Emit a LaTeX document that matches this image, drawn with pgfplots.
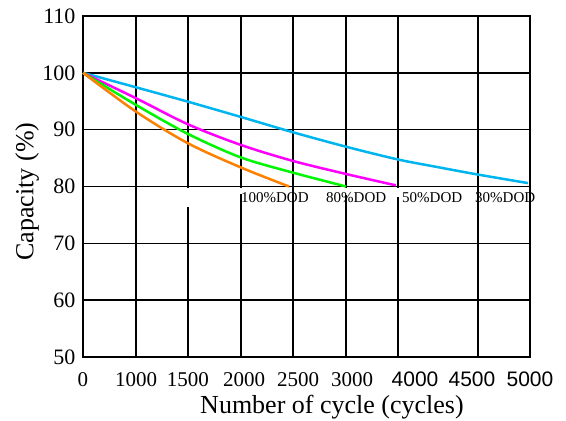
\documentclass[border=0pt]{standalone}
\usepackage{fontspec}
\setmainfont{Liberation Serif}
\newfontfamily\arialf{Liberation Sans}
\usepackage{pgfplots}
\pgfplotsset{compat=1.18}
\definecolor{corange}{RGB}{255,128,0}
\definecolor{cgreen}{RGB}{0,245,0}
\definecolor{cmag}{RGB}{255,0,255}
\definecolor{ccyan}{RGB}{0,180,240}
\begin{document}
\begin{tikzpicture}
\begin{axis}[
  scale only axis,
  width=447bp, height=341bp,
  xmin=0, xmax=5000, ymin=50, ymax=110,
  clip=false,
  axis line style={line width=1.6bp},
  xtick={0,593,1174.5,1801,2405,3009,3714,4351,5000},
  xticklabels={0,1000,1500,2000,2500,3000,{\arialf 4000},{\arialf 4500},{\arialf 5000}},
  minor xtick={593,1174,1767,2349,2942,3524,4418},
  ytick={50,60,70,80,90,100,110},
  ymajorgrids, xminorgrids,
  major grid style={black, line width=1.6bp},
  minor grid style={black, line width=1.6bp},
  major tick length=0pt, minor tick length=0pt,
  /pgf/number format/assume math mode=true,
  yticklabel style={font=\fontsize{22bp}{25bp}\selectfont, xshift=-4bp},
  xticklabel style={font=\fontsize{21bp}{24bp}\selectfont, anchor=base, yshift=-29bp},
  xlabel={Number of cycle (cycles)},
  ylabel={Capacity (\%)},
  label style={font=\fontsize{26bp}{29bp}\selectfont},
  xlabel style={at={(axis description cs:0.557,-0.147)}, anchor=center},
  ylabel style={at={(axis description cs:-0.125,0.485)}, anchor=center},
]
\coordinate (bl) at (rel axis cs:0,0);
\fill[white] (axis cs:1140,79.8) rectangle (axis cs:1208,76.4);
\fill[white] (axis cs:1733,79.8) rectangle (axis cs:1801,78.7);
\fill[white] (axis cs:2908,79.8) rectangle (axis cs:2976,78.5);
\fill[white] (axis cs:3490,79.8) rectangle (axis cs:3558,78.2);
\addplot[ccyan, line width=2.5bp, smooth] coordinates {
 (0,100) (593,97.45) (1174,94.92) (1767,92.23) (2349,89.54) (2942,87.00) (3524,84.75) (3971,83.4) (4418,82.1) (4978,80.6)};
\addplot[cmag, line width=2.5bp, smooth] coordinates {
 (0,100) (593,95.52) (1174,90.94) (1767,87.30) (2349,84.49) (2942,82.20) (3500,80.2)};
\addplot[cgreen, line width=2.5bp, smooth] coordinates {
 (0,100) (593,94.34) (1174,89.24) (1767,85.10) (2349,82.43) (2942,80.0)};
\addplot[corange, line width=2.5bp, smooth] coordinates {
 (0,100) (593,93.16) (1174,87.60) (1767,83.34) (2304,80.0)};
\begin{scope}[every node/.style={anchor=base west, inner sep=0pt, font=\fontsize{15bp}{17bp}\selectfont}]
\node at (axis cs:1767,77.1) {100\%DOD};
\node at (axis cs:2718,77.1) {80\%DOD};
\node at (axis cs:3568,77.1) {50\%DOD};
\node at (axis cs:4385,77.1) {30\%DOD};
\end{scope}
\end{axis}
\pgfresetboundingbox
\path[use as bounding box] (bl) ++(-83bp,-64bp) rectangle ++(566bp,421bp);
\end{tikzpicture}
\end{document}
